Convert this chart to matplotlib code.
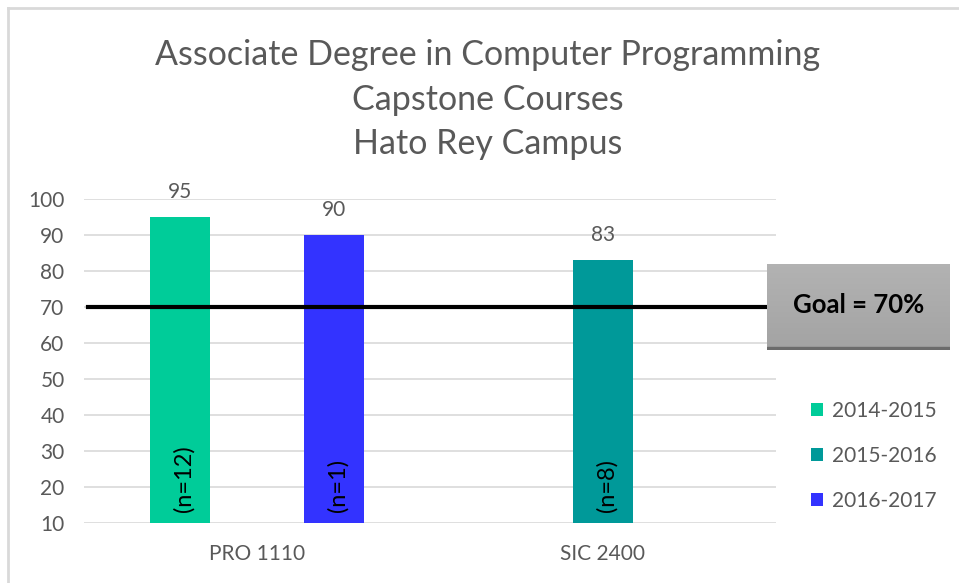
import numpy as np
import matplotlib
matplotlib.use('Agg')
import matplotlib.pyplot as plt
from matplotlib.lines import Line2D

plt.rcParams['font.family'] = ['Lato', 'DejaVu Sans']

# data
courses = ['PRO 1110', 'SIC 2400']
years = ['2014-2015', '2015-2016', '2016-2017']
vals_1415 = [95, np.nan]
vals_1516 = [np.nan, 83]
vals_1617 = [90, np.nan]
n_1415 = ['(n=12)', '']
n_1516 = ['', '(n=8)']
n_1617 = ['(n=1)', '']
goal = 70
title_lines = ['Associate Degree in Computer Programming',
               'Capstone Courses',
               'Hato Rey Campus']

colors = ['#00CC99', '#009999', '#3333FF']
grey_txt = '#595959'

W, H = 959, 583
fig = plt.figure(figsize=(W / 100, H / 100), dpi=100)
ax = fig.add_axes([84 / W, (H - 523) / H, 692 / W, 324 / H])

x = np.arange(len(courses))
width = 0.173
offs = [-0.2225, 0.0, 0.2225]
series = [vals_1415, vals_1516, vals_1617]
nlabs = [n_1415, n_1516, n_1617]

handles = []
for i, (vals, nl) in enumerate(zip(series, nlabs)):
    bars = ax.bar(x + offs[i], np.array(vals) - 10, width, bottom=10,
                  color=colors[i], label=years[i], zorder=2)
    handles.append(bars)
    for xi, v, lab in zip(x + offs[i], vals, nl):
        if np.isnan(v):
            continue
        ax.annotate('%d' % v, (xi, v), xytext=(0, 11), textcoords='offset points',
                    ha='center', va='bottom', fontsize=15, color=grey_txt)
        ax.text(xi + 0.01, 13.0, lab, rotation=90, ha='center', va='bottom',
                fontsize=17, color='black', zorder=3)

ax.set_xlim(-0.5, 1.5)
ax.set_ylim(10, 100)
ax.set_yticks(np.arange(10, 101, 10))
ax.set_xticks(x)
ax.set_xticklabels(courses)
ax.tick_params(axis='both', length=0, labelsize=15, labelcolor=grey_txt)
ax.tick_params(axis='y', pad=14)
ax.tick_params(axis='x', pad=15)
ax.grid(axis='y', color='#d9d9d9', linewidth=1.2, zorder=0)
ax.set_axisbelow(True)
for s in ax.spines.values():
    s.set_visible(False)

# goal line
ax.axhline(goal, xmin=0.006, xmax=1, color='black', linewidth=3, zorder=4, clip_on=False)

# goal box with a soft grey gradient
bx = fig.add_axes([767 / W, (H - 350) / H, 183 / W, 86 / H])
grad = np.linspace(0.70, 0.64, 100).reshape(-1, 1)
bx.imshow(np.dstack([grad, grad, grad]), aspect='auto', extent=[0, 1, 0, 1])
bx.axhspan(0, 0.035, color='#6b6b6b')
bx.set_xlim(0, 1)
bx.set_ylim(0, 1)
bx.axis('off')
bx.text(0.5, 0.52, 'Goal = 70%', ha='center', va='center', fontsize=18.5,
        fontweight='bold', color='black')

# legend
fig.legend(handles=handles, labels=years, loc='upper left',
           bbox_to_anchor=(792 / W, 1 - 382 / H), frameon=False, fontsize=15,
           labelcolor=grey_txt, handlelength=0.6, handleheight=0.6,
           handletextpad=0.4, labelspacing=1.2)

# title
for k, line in enumerate(title_lines):
    fig.text(488 / W, 1 - (55 + 44.5 * k) / H, line, ha='center', va='center',
             fontsize=24.5, color=grey_txt)

# chart frame edges (top and left)
fig.add_artist(Line2D([8 / W, 1], [1 - 8 / H, 1 - 8 / H], color='#d9d9d9', linewidth=2))
fig.add_artist(Line2D([8 / W, 8 / W], [0, 1 - 8 / H], color='#d9d9d9', linewidth=2))

fig.savefig('out.png', dpi=100)
